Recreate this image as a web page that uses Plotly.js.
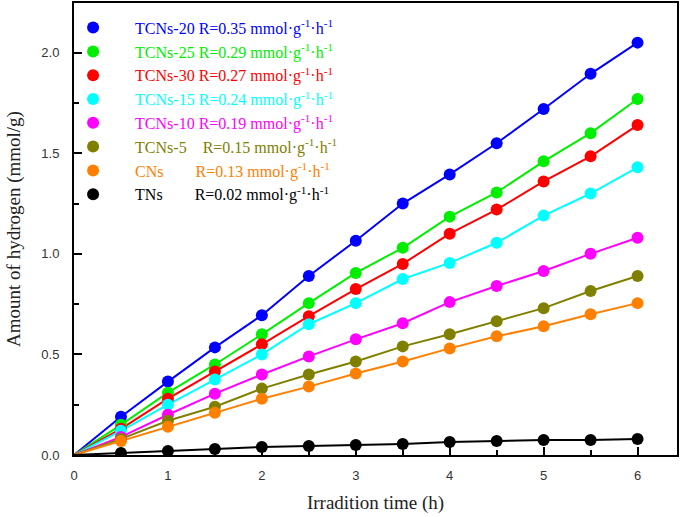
<!DOCTYPE html>
<html>
<head>
<meta charset="utf-8">
<script src="https://cdn.plot.ly/plotly-3.0.1.min.js"></script>
<style>html,body{margin:0;padding:0;background:#fff;}#chart{width:685px;height:517px;}</style>
</head>
<body>
<div id="chart"></div>
<script>
// Data
const time = [0.5, 1, 1.5, 2, 2.5, 3, 3.5, 4, 4.5, 5, 5.5, 6];
const seriesNames = ["TCNs-20", "TCNs-25", "TCNs-30", "TCNs-15", "TCNs-10", "TCNs-5", "CNs", "TNs"];
const rates = ["0.35", "0.29", "0.27", "0.24", "0.19", "0.15", "0.13", "0.02"];
const tcns20 = [0.19, 0.365, 0.535, 0.695, 0.89, 1.065, 1.25, 1.395, 1.55, 1.72, 1.895, 2.05];
const tcns25 = [0.15, 0.31, 0.45, 0.60, 0.755, 0.905, 1.03, 1.185, 1.305, 1.46, 1.60, 1.77];
const tcns30 = [0.13, 0.28, 0.415, 0.55, 0.69, 0.825, 0.95, 1.10, 1.22, 1.36, 1.485, 1.64];
const tcns15 = [0.12, 0.25, 0.375, 0.50, 0.65, 0.755, 0.875, 0.955, 1.055, 1.19, 1.30, 1.43];
const tcns10 = [0.09, 0.20, 0.305, 0.40, 0.49, 0.575, 0.655, 0.76, 0.84, 0.915, 1.00, 1.08];
const tcns5  = [0.08, 0.17, 0.24, 0.33, 0.40, 0.465, 0.54, 0.60, 0.665, 0.73, 0.815, 0.89];
const cns    = [0.07, 0.14, 0.21, 0.28, 0.34, 0.405, 0.465, 0.53, 0.59, 0.64, 0.70, 0.755];
const tns    = [0.01, 0.02, 0.03, 0.04, 0.045, 0.05, 0.055, 0.065, 0.07, 0.075, 0.075, 0.08];
const colors = ["#0000ff", "#00ee00", "#ff0000", "#00ffff", "#ff00ff", "#808000", "#ff8000", "#000000"];
const padNames = ["TCNs-20 ", "TCNs-25 ", "TCNs-30 ", "TCNs-15 ", "TCNs-10 ", "TCNs-5\u00a0\u00a0\u00a0\u00a0", "CNs\u00a0\u00a0\u00a0\u00a0\u00a0\u00a0\u00a0\u00a0", "TNs\u00a0\u00a0\u00a0\u00a0\u00a0\u00a0\u00a0\u00a0"];
const allY = [tcns20, tcns25, tcns30, tcns15, tcns10, tcns5, cns, tns];

const traces = [];
allY.forEach((ys, i) => {
  traces.push({
    x: [0].concat(time), y: [0].concat(ys), mode: 'lines', type: 'scatter',
    line: {color: colors[i], width: 2}, showlegend: false, hoverinfo: 'skip'
  });
});
allY.forEach((ys, i) => {
  const label = padNames[i] + 'R=' + rates[i] + ' mmol·g<sup>-1</sup>·h<sup>-1</sup>';
  traces.push({
    x: time, y: ys, mode: 'markers', type: 'scatter',
    name: '<span style="color:' + colors[i] + '">' + label + '</span>',
    marker: {color: colors[i], size: 12, symbol: 'circle'}
  });
});

const layout = {
  width: 685, height: 517,
  margin: {l: 74, r: 8, t: 3, b: 62},
  paper_bgcolor: '#fff', plot_bgcolor: '#fff',
  showlegend: true,
  legend: {
    x: -0.038, y: 0.983, xanchor: 'left', yanchor: 'top',
    bgcolor: 'rgba(0,0,0,0)', borderwidth: 0, itemwidth: 74,
    font: {family: 'Liberation Serif, Times New Roman, serif', size: 16, color: '#000'},
    tracegroupgap: 0
  },
  xaxis: {
    range: [0, 6.42], tickmode: 'linear', tick0: 0, dtick: 1,
    ticks: 'inside', ticklen: 8, tickwidth: 2, tickcolor: '#000',
    minor: {dtick: 0.5, ticks: 'inside', ticklen: 5, tickwidth: 2, tickcolor: '#000'},
    showline: true, linecolor: '#000', linewidth: 2, mirror: true,
    showgrid: false, zeroline: false, ticklabelstandoff: 7,
    tickfont: {family: 'Liberation Sans, Arial, sans-serif', size: 13, color: '#333'},
    title: {text: 'Irradition time (h)', standoff: 14,
      font: {family: 'Liberation Serif, Times New Roman, serif', size: 19, color: '#222'}}
  },
  yaxis: {
    range: [0, 2.247], tickmode: 'linear', tick0: 0, dtick: 0.5, tickformat: '.1f',
    ticks: 'inside', ticklen: 8, tickwidth: 2, tickcolor: '#000',
    minor: {dtick: 0.25, ticks: 'inside', ticklen: 5, tickwidth: 2, tickcolor: '#000'},
    showline: true, linecolor: '#000', linewidth: 2, mirror: true,
    showgrid: false, zeroline: false, ticklabelstandoff: 10,
    tickfont: {family: 'Liberation Sans, Arial, sans-serif', size: 13, color: '#333'},
    title: {text: 'Amount of hydrogen (mmol/g)', standoff: 16,
      font: {family: 'Liberation Serif, Times New Roman, serif', size: 19, color: '#222'}}
  }
};

Plotly.newPlot('chart', traces, layout, {displayModeBar: false, staticPlot: true});
</script>
</body>
</html>
